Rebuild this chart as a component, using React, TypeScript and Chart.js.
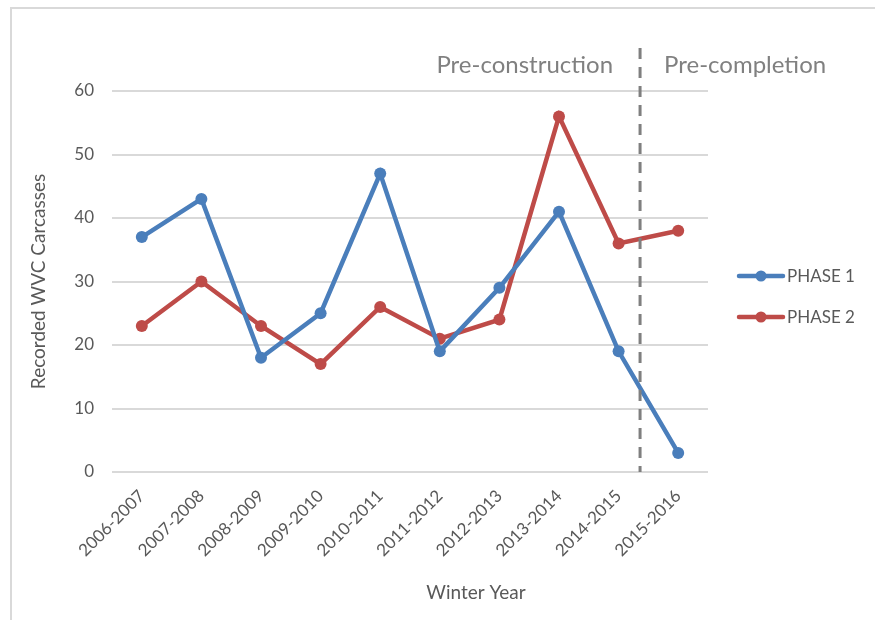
import React, { useEffect, useRef } from "react";
import { Chart, registerables } from "chart.js";

Chart.register(...registerables);

const categories = [
  "2006-2007",
  "2007-2008",
  "2008-2009",
  "2009-2010",
  "2010-2011",
  "2011-2012",
  "2012-2013",
  "2013-2014",
  "2014-2015",
  "2015-2016",
];
const phase1 = [37, 43, 18, 25, 47, 19, 29, 41, 19, 3];
const phase2 = [23, 30, 23, 17, 26, 21, 24, 56, 36, 38];
const seriesNames = ["PHASE 1", "PHASE 2"];
const yTickMin = 0;
const yTickMax = 60;
const yTickStep = 10;
const periodLabels = ["Pre-construction", "Pre-completion"];
const dividerAt = 8.36; // position on the category axis (between 2014-2015 and 2015-2016)
const xTitle = "Winter Year";
const yTitle = "Recorded WVC Carcasses";

const BLUE = "#4a7ebb";
const RED = "#be4b48";
const TEXT = "#595959";
const FONT = "Lato, 'Open Sans', sans-serif";

const decorPlugin = {
  id: "decor",
  beforeDraw(chart: any) {
    const ctx = chart.ctx;
    ctx.save();
    ctx.strokeStyle = "#d9d9d9";
    ctx.lineWidth = 2;
    ctx.beginPath();
    ctx.moveTo(11, chart.height);
    ctx.lineTo(11, 8);
    ctx.lineTo(chart.width, 8);
    ctx.stroke();
    ctx.restore();
  },
  afterDraw(chart: any) {
    const ctx = chart.ctx;
    const { chartArea } = chart;
    const xs = chart.scales.x;
    const divX = xs.getPixelForValue(dividerAt);
    ctx.save();
    // divider
    ctx.strokeStyle = "#7f7f7f";
    ctx.lineWidth = 3;
    ctx.setLineDash([11, 8]);
    ctx.beginPath();
    ctx.moveTo(divX, chartArea.top - 43);
    ctx.lineTo(divX, chartArea.bottom);
    ctx.stroke();
    ctx.setLineDash([]);

    // period labels
    ctx.fillStyle = "#808080";
    ctx.font = `24px ${FONT}`;
    ctx.textBaseline = "middle";
    ctx.textAlign = "right";
    ctx.fillText(periodLabels[0], divX - 27, chartArea.top - 26);
    ctx.textAlign = "left";
    ctx.fillText(periodLabels[1], divX + 24, chartArea.top - 26);

    // x title
    ctx.fillStyle = TEXT;
    ctx.font = `19px ${FONT}`;
    ctx.textAlign = "center";
    ctx.fillText(xTitle, 476, chartArea.bottom + 121);

    // legend
    const colors = [BLUE, RED];
    chart.data.datasets.forEach((ds: any, i: number) => {
      const y = chartArea.top + 185 + i * 41;
      const x0 = chartArea.right + 31;
      ctx.strokeStyle = colors[i];
      ctx.lineWidth = 4.5;
      ctx.lineCap = "round";
      ctx.beginPath();
      ctx.moveTo(x0, y);
      ctx.lineTo(x0 + 44, y);
      ctx.stroke();
      ctx.fillStyle = colors[i];
      ctx.beginPath();
      ctx.arc(x0 + 22, y, 5.5, 0, Math.PI * 2);
      ctx.fill();
      ctx.fillStyle = TEXT;
      ctx.font = `17px ${FONT}`;
      ctx.textAlign = "left";
      ctx.textBaseline = "middle";
      ctx.fillText(ds.label, x0 + 48, y + 1);
    });
    ctx.restore();
  },
};

export default function App() {
  const canvasRef = useRef<HTMLCanvasElement | null>(null);

  useEffect(() => {
    if (!canvasRef.current) return;
    const chart = new Chart(canvasRef.current, {
      type: "line",
      data: {
        labels: categories,
        datasets: [
          {
            label: seriesNames[0],
            data: phase1,
            borderColor: BLUE,
            backgroundColor: BLUE,
            borderWidth: 4.5,
            pointRadius: 6,
            pointBackgroundColor: BLUE,
            pointBorderWidth: 0,
            tension: 0,
          },
          {
            label: seriesNames[1],
            data: phase2,
            borderColor: RED,
            backgroundColor: RED,
            borderWidth: 4.5,
            pointRadius: 6,
            pointBackgroundColor: RED,
            pointBorderWidth: 0,
            tension: 0,
          },
        ],
      },
      options: {
        responsive: false,
        animation: false,
        layout: { padding: { top: 91, right: 167, bottom: 0, left: 0 } },
        plugins: {
          legend: { display: false },
          tooltip: { enabled: false },
        },
        scales: {
          x: {
            offset: true,
            grid: { display: false },
            border: { display: false },
            ticks: {
              minRotation: 45,
              maxRotation: 45,
              padding: 6,
              color: TEXT,
              font: { family: FONT, size: 17 },
            },
            afterFit(scale: any) {
              scale.height = 148;
            },
          },
          y: {
            min: yTickMin,
            max: yTickMax,
            ticks: {
              stepSize: yTickStep,
              padding: 18,
              color: TEXT,
              font: { family: FONT, size: 17 },
            },
            grid: { color: "#d9d9d9", lineWidth: 2, drawTicks: false },
            border: { display: false },
            title: {
              display: true,
              text: yTitle,
              color: TEXT,
              font: { family: FONT, size: 19 },
              padding: { top: 27, bottom: 0 },
            },
            afterFit(scale: any) {
              scale.width = 112;
            },
          },
        },
      },
      plugins: [decorPlugin],
    });
    return () => chart.destroy();
  }, []);

  return (
    <div style={{ position: "fixed", left: 0, top: 0, width: 875, height: 620, background: "#fff" }}>
      <canvas ref={canvasRef} width={875} height={620} />
    </div>
  );
}
